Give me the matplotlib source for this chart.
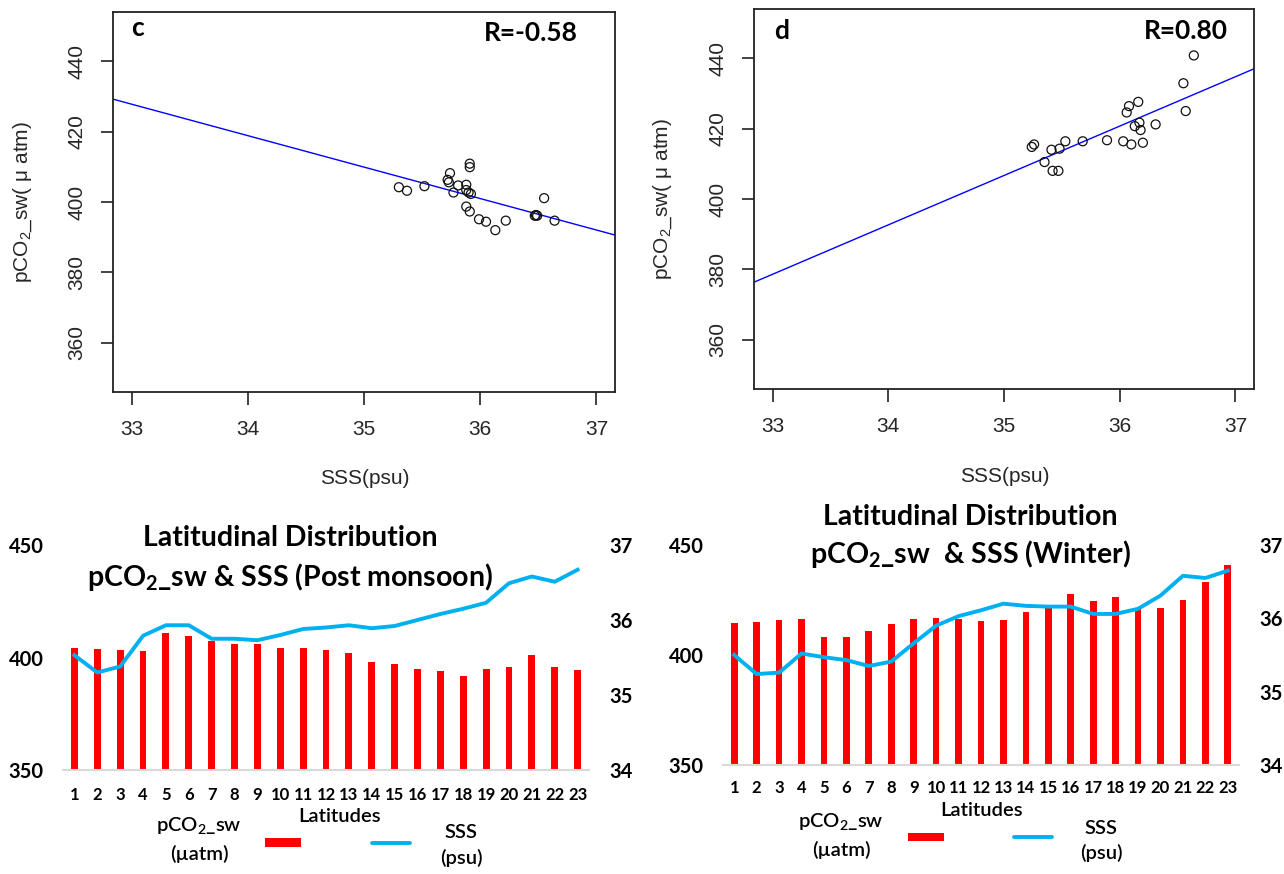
import matplotlib
matplotlib.use("Agg")
import matplotlib.pyplot as plt
import numpy as np
from matplotlib.lines import Line2D
from matplotlib.patches import Rectangle

plt.rcParams['mathtext.default'] = 'regular'

W, H = 1284, 874

# ---------------- data ----------------
# panel c (post monsoon) scatter
sss_c = [35.30, 35.37, 35.52, 35.74, 35.72, 35.73, 35.77, 35.81, 35.88, 35.88,
         35.90, 35.92, 35.91, 35.91, 35.88, 35.91, 35.99, 36.05, 36.13, 36.22,
         36.47, 36.48, 36.49, 36.55, 36.64]
pco2_c = [404.2, 403.2, 404.5, 408.2, 406.3, 405.6, 402.7, 404.7, 404.9, 403.4,
          402.7, 402.3, 410.9, 409.9, 398.7, 397.3, 395.1, 394.4, 392.0, 394.7,
          396.1, 396.3, 396.1, 401.1, 394.7]
fit_c = (427.8, -8.94)   # fitted pCO2 at SSS=33, slope
r_c = "R=-0.58"

# panel d (winter) scatter
sss_d = [36.64, 36.55, 36.57, 36.16, 36.08, 36.06, 36.17, 36.13, 36.18, 36.31,
         36.20, 36.10, 36.03, 35.89, 35.68, 35.53, 35.48, 35.41, 35.24, 35.26,
         35.35, 35.42, 35.47]
pco2_d = [440.8, 432.9, 425.0, 427.6, 426.4, 424.6, 421.7, 420.7, 419.6, 421.2,
          416.0, 415.5, 416.4, 416.7, 416.4, 416.4, 414.3, 414.0, 414.8, 415.5,
          410.5, 408.0, 408.0]
fit_d = (378.6, 14.04)
r_d = "R=0.80"

latitudes = list(range(1, 24))
pco2_post = [404.3, 404.0, 403.5, 402.8, 410.9, 409.6, 407.4, 406.2, 406.2, 404.3,
             404.3, 403.5, 402.0, 398.2, 397.2, 395.0, 394.2, 392.0, 395.0, 396.0,
             400.9, 396.0, 394.5]
sss_post = [35.53, 35.30, 35.38, 35.79, 35.93, 35.93, 35.75, 35.75, 35.73, 35.80,
            35.88, 35.90, 35.93, 35.89, 35.92, 36.00, 36.08, 36.15, 36.23, 36.49,
            36.58, 36.51, 36.67]
pco2_win = [414.5, 415.0, 416.0, 416.2, 408.2, 408.2, 410.9, 414.2, 416.2, 417.0,
            416.2, 415.5, 416.0, 419.7, 421.2, 427.6, 424.5, 426.5, 421.2, 421.2,
            425.0, 433.2, 440.8]
sss_win = [35.50, 35.24, 35.26, 35.52, 35.47, 35.43, 35.35, 35.41, 35.66, 35.90,
           36.03, 36.11, 36.20, 36.17, 36.16, 36.16, 36.06, 36.06, 36.13, 36.31,
           36.58, 36.55, 36.65]

# ---------------- helpers ----------------
def box(l, t, r, b):
    return [l / W, 1 - b / H, (r - l) / W, (b - t) / H]

def fx(x):
    return x / W

def fy(y):
    return 1 - y / H

fig = plt.figure(figsize=(W / 100, H / 100), dpi=100)
fig.patch.set_facecolor("white")

RFONT = "Liberation Sans"
TXT = "#262626"
CFONT = "Lato"


def scatter_panel(rect, sss, pco2, fit, letter, rtext, letter_xy, r_xy, ylab_x, xlab_xy):
    ax = fig.add_axes(box(*rect))
    ax.scatter(sss, pco2, s=42, facecolors="none", edgecolors="#111111", linewidths=0.9, zorder=3)
    ax.axline((33, fit[0]), slope=fit[1], color="#0000ff", lw=1.0, zorder=2)
    ax.set_xlim(32.84, 37.16)
    ax.set_ylim(346, 454)
    ax.set_xticks([33, 34, 35, 36, 37])
    ax.set_yticks([360, 380, 400, 420, 440])
    for s in ax.spines.values():
        s.set_linewidth(1.3)
        s.set_color("#222222")
    ax.tick_params(axis="both", direction="out", length=9, width=1.2, colors="#222222",
                   labelcolor=TXT, labelsize=15)
    ax.tick_params(axis="x", pad=11)
    ax.tick_params(axis="y", pad=10)
    for lab in ax.get_xticklabels():
        lab.set_fontfamily(RFONT)
    for lab in ax.get_yticklabels():
        lab.set_fontfamily(RFONT)
        lab.set_rotation(90)
        lab.set_va("center")
    fig.text(fx(letter_xy[0]), fy(letter_xy[1]), letter, fontfamily=CFONT, fontweight="bold",
             fontsize=19, ha="center", va="center", color="black")
    fig.text(fx(r_xy[0]), fy(r_xy[1]), rtext, fontfamily=CFONT, fontweight="bold",
             fontsize=19, ha="right", va="center", color="black")
    fig.text(fx(ylab_x), fy((rect[1] + rect[3]) / 2), "pCO$_2$_sw( μ atm)", rotation=90,
             fontfamily=RFONT, fontsize=15, ha="center", va="center", color=TXT)
    fig.text(fx(xlab_xy[0]), fy(xlab_xy[1]), "SSS(psu)", fontfamily=RFONT, fontsize=15,
             ha="center", va="center", color=TXT)
    return ax


scatter_panel((113, 12, 615, 392), sss_c, pco2_c, fit_c, "c", r_c, (137, 28), (578, 33), 23, (365, 478))
scatter_panel((754, 9, 1254, 389), sss_d, pco2_d, fit_d, "d", r_d, (782, 31), (1228, 31), 663, (1005, 476))


def bar_panel(rect, pco2, sss, title_lines, title_x, title_ys, xlab_y_pad, legend):
    ax = fig.add_axes(box(*rect))
    ax.bar(latitudes, [v - 350 for v in pco2], bottom=350, width=0.3, color="#ff0000", zorder=2)
    ax.set_xlim(0.5, 23.5)
    ax.set_ylim(350, 450)
    ax.set_yticks([350, 400, 450])
    ax.set_xticks(latitudes)
    for k in ["top", "left", "right"]:
        ax.spines[k].set_visible(False)
    ax.spines["bottom"].set_color("#d9d9d9")
    ax.spines["bottom"].set_linewidth(1.5)
    ax.tick_params(axis="both", length=0)
    ax.tick_params(axis="y", pad=14, labelsize=14.5)
    ax.tick_params(axis="x", pad=xlab_y_pad, labelsize=12)
    for lab in ax.get_yticklabels() + ax.get_xticklabels():
        lab.set_fontfamily(CFONT)
        lab.set_fontweight("bold")
    ax.set_facecolor("none")
    ax2 = ax.twinx()
    ax2.plot(latitudes, sss, color="#00b0f0", lw=2.8, solid_joinstyle="round", zorder=3)
    ax2.set_ylim(34, 37)
    ax2.set_yticks([34, 35, 36, 37])
    for s in ax2.spines.values():
        s.set_visible(False)
    ax2.tick_params(axis="y", length=0, pad=15, labelsize=14.5)
    for lab in ax2.get_yticklabels():
        lab.set_fontfamily(CFONT)
        lab.set_fontweight("bold")
    for txt, y in zip(title_lines, title_ys):
        fig.text(fx(title_x), fy(y), txt, fontfamily=CFONT, fontweight="bold", fontsize=20.5,
                 ha="center", va="center", color="black")
    # legend
    lg = legend
    kw = dict(fontfamily=CFONT, fontweight="semibold", fontsize=14.5, ha="center", va="center",
              color="black")
    fig.text(fx(lg["p_x"]), fy(lg["p_y"]), "pCO$_2$_sw", **kw)
    fig.text(fx(lg["p_x"]), fy(lg["p_y"] + 28), "(µatm)", **kw)
    fig.text(fx(lg["lat_x"]), fy(lg["lat_y"]), "Latitudes", **kw)
    fig.text(fx(lg["s_x"]), fy(lg["s_y"]), "SSS", **kw)
    fig.text(fx(lg["s_x"]), fy(lg["s_y"] + 25), "(psu)", **kw)
    r = lg["rect"]
    fig.patches.append(Rectangle((fx(r[0]), fy(r[3])), fx(r[2] - r[0]), (r[3] - r[1]) / H,
                                 transform=fig.transFigure, facecolor="#ff0000", edgecolor="none"))
    ln = lg["line"]
    fig.lines.append(Line2D([fx(ln[0]), fx(ln[1])], [fy(ln[2]), fy(ln[2])], transform=fig.transFigure,
                            color="#00b0f0", lw=2.8, solid_capstyle="round"))
    return ax


bar_panel((63, 545, 589, 770), pco2_post, sss_post,
          ["Latitudinal Distribution", "pCO$_2$_sw & SSS (Post monsoon)"], 290, (538, 577), 12,
          dict(p_x=199, p_y=826, lat_x=340, lat_y=816, s_x=461, s_y=833,
               rect=(265, 838, 301, 847), line=(372, 410, 843)))
bar_panel((723, 545, 1239, 765), pco2_win, sss_win,
          ["Latitudinal Distribution", "pCO$_2$_sw  & SSS (Winter)"], 970, (517, 554), 11,
          dict(p_x=841, p_y=822, lat_x=982, lat_y=811, s_x=1101, s_y=828,
               rect=(908, 833, 944, 841), line=(1014, 1052, 837)))

fig.savefig("out.png", dpi=100, facecolor="white")
